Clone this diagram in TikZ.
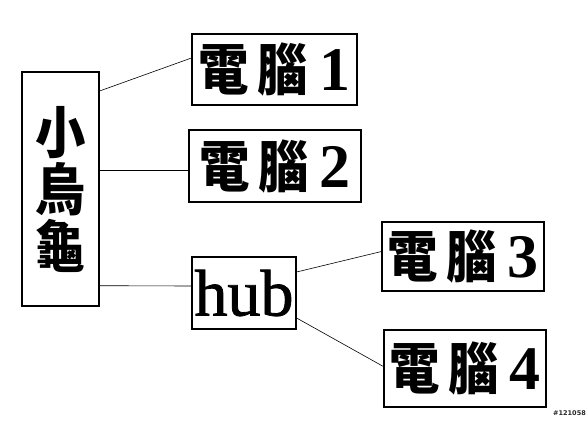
\documentclass[tikz,border=0pt]{standalone}
\usepackage{fontspec}
\setmainfont{Liberation Serif}
\newfontfamily\cjk{Noto Sans CJK TC}[FakeStretch=0.9]
\newfontfamily\hubfont{Liberation Serif}[FakeBold=1.2]
\newfontfamily\markfont{DejaVu Sans}
\newcommand{\pcname}[1]{{\cjk\bfseries\fontsize{56}{56}\selectfont 電\hspace{9pt}腦}\hspace{11pt}{\bfseries\fontsize{62}{62}\selectfont #1}}

\begin{document}
\begin{tikzpicture}[x=1pt, y=-1pt, box/.style={rectangle, draw=black, line width=1.2pt, inner sep=0pt}, link/.style={draw=black, line width=0.6pt}]
				\useasboundingbox (0,0) rectangle (588,439);
				
				\node[box, minimum width=77pt, minimum height=234pt, align=center, font=\cjk\bfseries\fontsize{56}{57}\selectfont] (turtle) at (60.5,189) {小\\烏\\龜};
				
				\node[box, minimum width=165pt, minimum height=71pt] (pc1) at (274.5,69.5) {\pcname{1}};
				\node[box, minimum width=172pt, minimum height=72pt] (pc2) at (275,166) {\pcname{2}};
				\node[box, minimum width=104pt, minimum height=72pt, font=\hubfont\fontsize{66}{66}\selectfont] (hub) at (244,293) {hub};
				\node[box, minimum width=162pt, minimum height=69pt] (pc3) at (463,256.5) {\pcname{3}};
				\node[box, minimum width=162pt, minimum height=77pt] (pc4) at (465,368.5) {\pcname{4}};
				
				\node[inner sep=0pt, text=black!85, font=\markfont\bfseries\fontsize{6.5}{6.5}\selectfont] (mark) at (569.5,413) {\#121058};
				
				\path[link] ([yshift=98pt]turtle.east) -- ([yshift=11.5pt]pc1.west);
				\path[link] ([yshift=19pt]turtle.east) -- ([yshift=-4pt]pc2.west);
				\path[link] ([yshift=-96.7pt]turtle.east) -- ([yshift=7pt]hub.west);
				\path[link] ([yshift=21pt]hub.east) -- ([yshift=5pt]pc3.west);
				\path[link] ([yshift=-25pt]hub.east) -- ([yshift=2pt]pc4.west);
\end{tikzpicture}
\end{document}
